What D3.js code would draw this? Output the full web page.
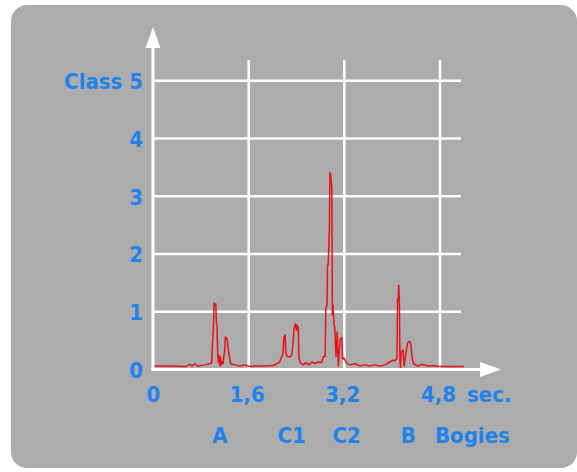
<!DOCTYPE html>
<html>
<head>
<meta charset="utf-8">
<script src="https://cdn.jsdelivr.net/npm/d3@7"></script>
<style>
html,body{margin:0;padding:0;background:#ffffff;}
svg{display:block;}
text{font-family:"DejaVu Sans Condensed","DejaVu Sans",sans-serif;font-weight:bold;fill:#2183ea;}
</style>
</head>
<body>
<svg id="chart" width="577" height="472"></svg>
<script>
// ---- data ----
const time = [0,0.28,0.54,0.62,0.65,0.70,0.75,0.87,0.95,0.98,0.995,1.01,1.02,1.04,1.05,1.06,1.07,1.08,1.09,1.10,1.12,1.13,1.14,1.15,1.17,1.20,1.21,1.24,1.25,1.28,1.30,1.37,1.45,1.54,1.61,
  1.71,1.87,2.01,2.07,2.12,2.15,2.17,2.19,2.21,2.22,2.24,2.29,2.32,2.34,2.36,2.38,2.40,2.41,2.43,2.44,2.47,2.51,2.56,2.61,2.66,2.71,2.76,2.82,2.85,2.88,2.89,2.91,2.92,2.93,2.95,2.96,2.97,2.99,3.00,3.01,3.03,3.04,3.06,3.08,3.10,3.13,3.16,3.17,3.19,3.24,3.29,3.38,3.46,3.55,3.63,3.71,3.80,3.88,3.96,4.01,4.05,4.08,4.09,4.10,4.11,4.12,4.13,4.14,4.15,4.18,4.20,4.23,4.26,4.29,4.31,4.33,4.36,4.43,4.50,4.60,4.70,4.80,4.97,5.20];
const signal = [0.06,0.06,0.05,0.09,0.06,0.10,0.06,0.08,0.10,0.11,0.48,0.68,1.15,1.10,1.14,0.80,0.77,0.34,0.13,0.25,0.06,0.22,0.08,0.13,0.10,0.34,0.56,0.53,0.42,0.20,0.10,0.08,0.06,0.08,0.05,
  0.06,0.06,0.07,0.10,0.13,0.22,0.25,0.56,0.60,0.30,0.23,0.22,0.25,0.42,0.72,0.79,0.68,0.77,0.72,0.20,0.11,0.08,0.12,0.08,0.13,0.10,0.13,0.12,0.22,0.23,1.08,1.10,1.81,1.81,2.42,3.41,3.37,3.16,0.94,1.12,0.75,0.74,0.23,0.65,0.06,0.53,0.55,0.18,0.20,0.11,0.08,0.10,0.06,0.08,0.06,0.08,0.06,0.08,0.13,0.16,0.15,0.20,1.22,1.20,1.46,1.20,0.16,0.03,0.30,0.34,0.06,0.29,0.46,0.49,0.46,0.22,0.10,0.06,0.09,0.06,0.07,0.05,0.05,0.05];
const xTicks = [0, 1.6, 3.2, 4.8];
const xTickLabels = ["0", "1,6", "3,2", "4,8"];
const yTicks = [0, 1, 2, 3, 4, 5];
const yTickLabels = ["0", "1", "2", "3", "4", "Class 5"];
const bogies = ["A", "C1", "C2", "B"];
const bogieTimes = [1.12, 2.32, 3.24, 4.27];
const xUnit = "sec.";
const bogieTitle = "Bogies";

// ---- layout ----
const svg = d3.select("#chart");
const x = d3.scaleLinear().domain([0, 4.8]).range([153, 440]);
const y = d3.scaleLinear().domain([0, 5]).range([369.5, 80.7]);
const gridRight = 461, gridTop = 60;
const white = "#ffffff";

svg.append("rect").attr("x", 11).attr("y", 5).attr("width", 566).attr("height", 463)
  .attr("rx", 16).attr("ry", 16).attr("fill", "#acacac");

// grid
svg.append("g").selectAll("line").data(yTicks.filter(d => d > 0)).join("line")
  .attr("x1", x(0)).attr("x2", gridRight).attr("y1", d => y(d)).attr("y2", d => y(d))
  .attr("stroke", white).attr("stroke-width", 2.5);
svg.append("g").selectAll("line").data(xTicks.filter(d => d > 0)).join("line")
  .attr("x1", d => x(d)).attr("x2", d => x(d)).attr("y1", gridTop).attr("y2", y(0))
  .attr("stroke", white).attr("stroke-width", 2.5);

// signal
const line = d3.line().x((d, i) => x(time[i])).y(d => y(d));
svg.append("path").datum(signal).attr("d", line)
  .attr("fill", "none").attr("stroke", "#e8121a").attr("stroke-width", 1.5)
  .attr("stroke-linejoin", "round");

// axes
svg.append("line").attr("x1", x(0)).attr("x2", x(0)).attr("y1", y(0) + 1.5).attr("y2", 46)
  .attr("stroke", white).attr("stroke-width", 3);
svg.append("path").attr("d", `M${x(0)},27 L${x(0) + 7.5},48 L${x(0) - 7.5},48 Z`).attr("fill", white);
svg.append("line").attr("x1", x(0) - 1.5).attr("x2", 482).attr("y1", y(0)).attr("y2", y(0))
  .attr("stroke", white).attr("stroke-width", 3);
svg.append("path").attr("d", `M501,${y(0)} L480,${y(0) - 7.5} L480,${y(0) + 7.5} Z`).attr("fill", white);

// y labels
svg.append("g").selectAll("text").data(yTicks).join("text")
  .attr("x", 143).attr("y", d => y(d) + 8.5).attr("text-anchor", "end")
  .attr("font-size", 22).text((d, i) => yTickLabels[i]);

// x labels
svg.append("g").selectAll("text").data(xTicks).join("text")
  .attr("x", d => x(d) - (d > 0 ? 1.5 : -0.5)).attr("y", 402).attr("text-anchor", "middle")
  .attr("font-size", 22).text((d, i) => xTickLabels[i]);
svg.append("text").attr("x", 467).attr("y", 402).attr("font-size", 22).text(xUnit);

// bogie labels
svg.append("g").selectAll("text").data(bogieTimes).join("text")
  .attr("x", d => x(d)).attr("y", 443).attr("text-anchor", "middle")
  .attr("font-size", 22).text((d, i) => bogies[i]);
svg.append("text").attr("x", 435).attr("y", 443).attr("font-size", 22).text(bogieTitle);
</script>
</body>
</html>
